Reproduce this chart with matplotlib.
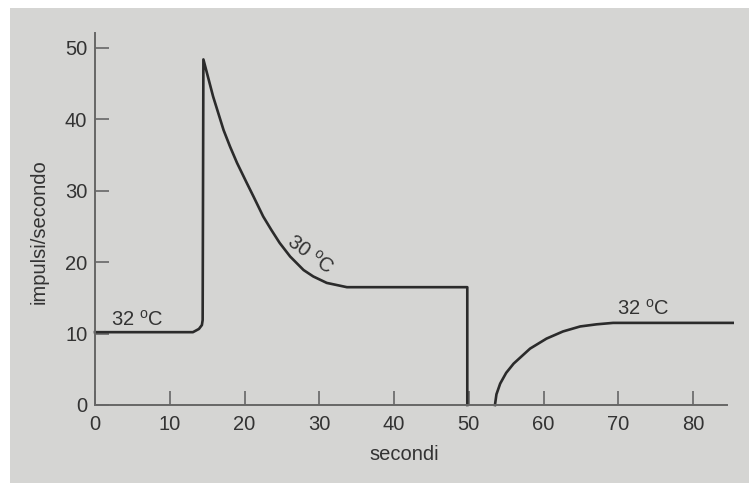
import matplotlib
matplotlib.use("Agg")
import matplotlib.pyplot as plt
from matplotlib.patches import Rectangle

plt.rcParams['font.family'] = ['Liberation Sans', 'DejaVu Sans']
plt.rcParams['mathtext.fontset'] = 'custom'
plt.rcParams['mathtext.rm'] = 'Liberation Sans'

# Data
# segment 1: resting at 32 C, step to 30 C (burst + adaptation), then back to 32 C (silence)
t1 = [0, 13.1, 13.9, 14.3, 14.4, 14.5, 15.2, 15.8, 17.2, 18.06, 19.0, 20.3, 21.2, 22.5, 23.6,
      24.7, 26.1, 27.9, 29.2, 31.0, 33.7, 40.0, 49.8, 49.8]
f1 = [10.2, 10.2, 10.65, 11.2, 11.9, 48.4, 45.6, 43.2, 38.5, 36.2, 33.9, 31.1, 29.2, 26.4, 24.5,
      22.7, 20.8, 18.9, 18.0, 17.1, 16.5, 16.5, 16.5, 0.0]
# segment 2: recovery at 32 C
t2 = [53.5, 53.7, 54.2, 55.0, 56.0, 58.2, 60.4, 62.6, 64.9, 67.1, 69.3, 75.0, 85.3]
f2 = [0.0, 1.5, 3.0, 4.5, 5.8, 7.9, 9.3, 10.3, 11.0, 11.3, 11.5, 11.5, 11.5]

xticks = [0, 10, 20, 30, 40, 50, 60, 70, 80]
yticks = [0, 10, 20, 30, 40, 50]

bg = '#d5d5d3'
ink = '#2b2b2b'
axc = '#666666'
txt = '#333333'
fs = 14.5

fig = plt.figure(figsize=(7.49, 4.83), dpi=100, facecolor='white')
fig.patches.append(Rectangle((10/749, 0), 1 - 10/749, 1 - 8/483, transform=fig.transFigure,
                             facecolor=bg, edgecolor='none', zorder=-10))
ax = fig.add_axes([95/749, 78/483, 631.7/749, 372/483])
ax.set_facecolor('none')

ax.plot(t1, f1, color=ink, lw=1.9, solid_joinstyle='round', clip_on=False)
ax.plot(t2, f2, color=ink, lw=1.9, solid_joinstyle='round', clip_on=False)

ax.set_xlim(0, 84.5)
ax.set_ylim(0, 52.1)
ax.set_xticks(xticks)
ax.set_yticks(yticks)
for s in ['top', 'right']:
    ax.spines[s].set_visible(False)
for s in ['left', 'bottom']:
    ax.spines[s].set_color(axc)
    ax.spines[s].set_linewidth(1.4)
ax.tick_params(axis='both', direction='in', length=10, width=1.2, color=axc,
               labelsize=fs, labelcolor=txt)
ax.tick_params(axis='x', pad=7)
ax.tick_params(axis='y', pad=5.5)

ax.text(0.49, -0.134, 'secondi', transform=ax.transAxes, ha='center', va='center',
        fontsize=fs, color=txt)
ax.text(-0.0886, 0.465, 'impulsi/secondo', transform=ax.transAxes, ha='center', va='center',
        rotation=90, fontsize=fs, color=txt)

ax.text(2.1, 11.1, '32 $^\\mathrm{o}$C', ha='left', va='baseline', fontsize=fs, color=txt)
ax.text(28.8, 21.1, '30 $^\\mathrm{o}$C', ha='center', va='center', rotation=-36,
        rotation_mode='anchor', fontsize=fs, color=txt)
ax.text(69.8, 12.6, '32 $^\\mathrm{o}$C', ha='left', va='baseline', fontsize=fs, color=txt)

fig.savefig('out.png', dpi=100, facecolor=fig.get_facecolor())
